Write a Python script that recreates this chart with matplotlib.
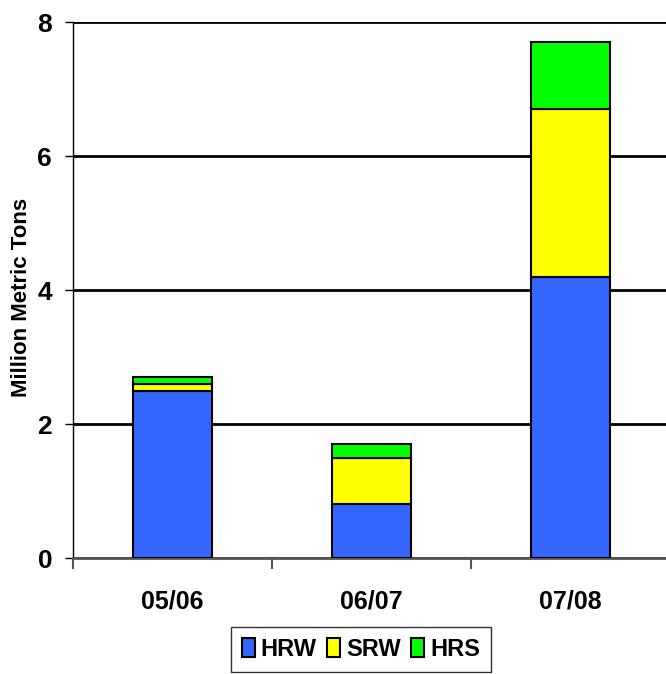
import matplotlib.pyplot as plt
from matplotlib.ticker import FixedLocator

years = ["05/06", "06/07", "07/08"]
hrw = [2.5, 0.8, 4.2]
srw = [0.1, 0.7, 2.5]
hrs = [0.1, 0.2, 1.0]

classes = ["HRW", "SRW", "HRS"]
colors = ["#3366FF", "#FFFF00", "#00FF00"]

font = ["Liberation Sans", "DejaVu Sans"]

fig = plt.figure(figsize=(6.66, 6.74), dpi=100)
ax = fig.add_axes([73 / 666, 1 - 558 / 674, 597 / 666, 536 / 674])

x = range(len(years))
bottom = [0] * len(years)
for name, vals, col in zip(classes, [hrw, srw, hrs], colors):
    ax.bar(x, vals, width=0.4, bottom=bottom, color=col, edgecolor="black",
           linewidth=1.5, label=name, zorder=3)
    bottom = [b + v for b, v in zip(bottom, vals)]

ax.set_xlim(-0.5, 2.5)
ax.set_ylim(0, 8)
ax.set_yticks([0, 2, 4, 6, 8])
ax.yaxis.grid(True, color="black", linewidth=2)
ax.set_axisbelow(True)

ax.set_xticks(list(x))
ax.set_xticklabels(years, family=font, fontweight="bold", fontsize=18)
ax.xaxis.set_minor_locator(FixedLocator([-0.5, 0.5, 1.5, 2.5]))
ax.tick_params(axis="x", which="major", length=0, pad=23)
ax.tick_params(axis="x", which="minor", length=8, width=1.5, color="#555555")
ax.tick_params(axis="y", length=6, width=1, pad=9)
for lab in ax.get_yticklabels():
    lab.set_family(font)
    lab.set_fontweight("bold")
    lab.set_fontsize(19)

ax.spines["top"].set_visible(False)
ax.spines["right"].set_visible(False)
ax.spines["left"].set_linewidth(1)
ax.spines["bottom"].set_linewidth(2)
ax.spines["bottom"].set_color("#555555")

ax.set_ylabel("Million Metric Tons", family=font, fontweight="bold",
              fontsize=16)
ax.yaxis.set_label_coords(-0.068, 0.487)

leg = fig.legend(loc="lower center", bbox_to_anchor=(361 / 666, 0.0), ncol=3,
                 frameon=True, fancybox=False, edgecolor="black",
                 prop={"family": font, "weight": "bold", "size": 17},
                 handlelength=0.55, handleheight=0.85, handletextpad=0.25,
                 columnspacing=0.45, borderpad=0.45, borderaxespad=0.1)
leg.get_frame().set_linewidth(1)

fig.savefig("out.png", dpi=100)
